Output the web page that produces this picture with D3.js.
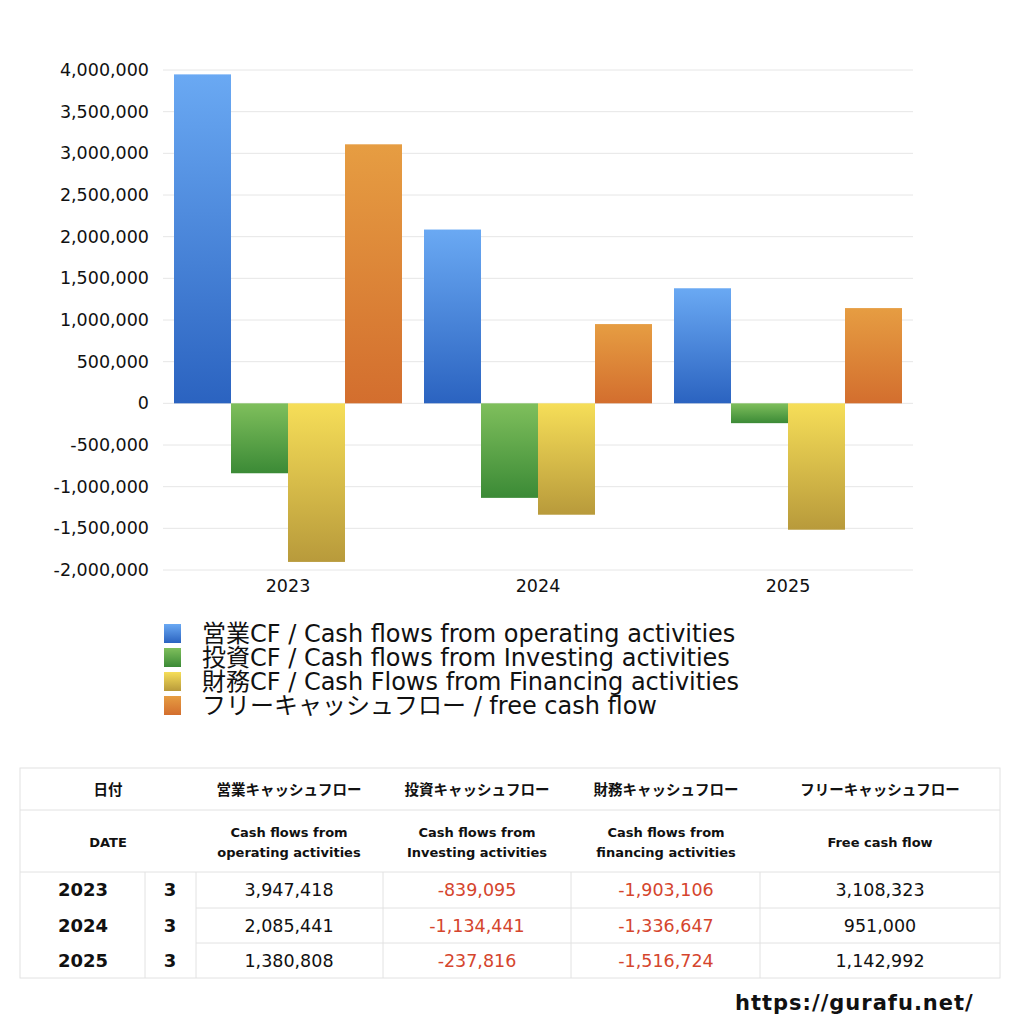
<!DOCTYPE html>
<html>
<head>
<meta charset="utf-8">
<script src="https://cdn.jsdelivr.net/npm/d3@7"></script>
<style>
  body { margin: 0; background: #fff; }
  svg text { font-family: "DejaVu Sans", "Noto Sans CJK JP", sans-serif; fill: #111; }
</style>
</head>
<body>
<div id="chart"></div>
<script>
// chart data
const years = ['2023', '2024', '2025'];
const months = [3, 3, 3];
const operating = [3947418, 2085441, 1380808];
const investing = [-839095, -1134441, -237816];
const financing = [-1903106, -1336647, -1516724];
const freeCF = [3108323, 951000, 1142992];

const seriesKeys = ['op', 'inv', 'fin', 'free'];
const legendLabels = [
    '営業CF / Cash flows from operating activities',
    '投資CF / Cash flows from Investing activities',
    '財務CF / Cash Flows from Financing activities',
    'フリーキャッシュフロー / free cash flow'
];
const headerJa = ['日付', '営業キャッシュフロー', '投資キャッシュフロー', '財務キャッシュフロー', 'フリーキャッシュフロー'];
const headerEn = [['DATE'], ['Cash flows from', 'operating activities'], ['Cash flows from', 'Investing activities'],
    ['Cash flows from', 'financing activities'], ['Free cash flow']];
const yTicks = [-2000000, -1500000, -1000000, -500000, 0, 500000, 1000000, 1500000, 2000000, 2500000, 3000000, 3500000, 4000000];

const gradients = {
    op: ['#6aa9f3', '#2b63c0'],
    inv: ['#7fbf5c', '#3b8a36'],
    fin: ['#f6de58', '#b89a3b'],
    free: ['#e69d42', '#d36e2e']
};

const values = {op: operating, inv: investing, fin: financing, free: freeCF};

const latinFont = '"DejaVu Sans", "Noto Sans CJK JP", sans-serif';
const jaFont = '"Noto Sans CJK JP", sans-serif';

// plain hyphen for negatives, like the original
const fmt = d3.formatLocale({decimal: '.', thousands: ',', grouping: [3], currency: ['', ''], minus: '-'}).format(',');

const svg = d3.select('#chart').append('svg')
    .attr('width', 1024)
    .attr('height', 1024);

const defs = svg.append('defs');
seriesKeys.forEach(k => {
    const g = defs.append('linearGradient')
        .attr('id', 'grad-' + k)
        .attr('x1', 0).attr('y1', 0).attr('x2', 0).attr('y2', 1);
    g.append('stop').attr('offset', '0%').attr('stop-color', gradients[k][0]);
    g.append('stop').attr('offset', '100%').attr('stop-color', gradients[k][1]);
});

const x0 = d3.scaleBand().domain(years).range([163, 913]).padding(0);
const x1 = d3.scaleBand().domain(seriesKeys).range([0, x0.bandwidth()]).paddingInner(0).paddingOuter(0.193);
const y = d3.scaleLinear().domain([-2000000, 4000000]).range([570, 70]);

// gridlines
svg.append('g')
    .selectAll('line')
    .data(yTicks)
    .enter()
    .append('line')
    .attr('x1', 163).attr('x2', 913)
    .attr('y1', d => y(d)).attr('y2', d => y(d))
    .attr('stroke', '#e6e6e6')
    .attr('stroke-width', 1);

// y axis labels
const yAxis = svg.append('g')
    .attr('transform', 'translate(149,0)')
    .call(d3.axisLeft(y).tickValues(yTicks).tickSize(0).tickPadding(0).tickFormat(fmt));
yAxis.select('.domain').remove();
yAxis.selectAll('text')
    .style('font-size', '17.5px')
    .style('font-family', latinFont)
    .attr('fill', '#222');

// x axis labels
const xAxis = svg.append('g')
    .attr('transform', 'translate(0,580)')
    .call(d3.axisBottom(x0).tickSize(0).tickPadding(0));
xAxis.select('.domain').remove();
xAxis.selectAll('text')
    .style('font-size', '17.5px')
    .style('font-family', latinFont)
    .attr('fill', '#222');

// bars
const groups = svg.append('g')
    .selectAll('g')
    .data(years)
    .enter()
    .append('g')
    .attr('transform', d => `translate(${x0(d)},0)`);

groups.selectAll('rect')
    .data((d, i) => seriesKeys.map(k => ({key: k, value: values[k][i]})))
    .enter()
    .append('rect')
    .attr('x', d => x1(d.key))
    .attr('width', x1.bandwidth())
    .attr('y', d => y(Math.max(0, d.value)))
    .attr('height', d => Math.abs(y(d.value) - y(0)))
    .attr('fill', d => `url(#grad-${d.key})`);

// legend
const legend = svg.append('g')
    .selectAll('g')
    .data(seriesKeys)
    .enter()
    .append('g')
    .attr('transform', (d, i) => `translate(164,${634 + i * 24})`);

legend.append('rect')
    .attr('x', 0).attr('y', -10)
    .attr('width', 17).attr('height', 19)
    .attr('fill', d => `url(#grad-${d})`);

const legendText = legend.append('text')
    .attr('x', 38)
    .attr('y', 2)
    .attr('dy', '0.35em');

// japanese part and latin part get their own fonts
legendText.each(function (d, i) {
    const m = legendLabels[i].match(/^([^\x00-\x7f]+)(.*)$/);
    const t = d3.select(this);
    t.append('tspan')
        .style('font-family', jaFont)
        .style('font-size', '24px')
        .text(m[1]);
    t.append('tspan')
        .style('font-family', latinFont)
        .style('font-size', '24px')
        .text(m[2]);
});

// table
const table = svg.append('g');
const lineColor = '#e2e2e2';
const colCenters = [108, 289, 477, 666, 880];
const rowY = [890, 926, 961];

table.append('rect')
    .attr('x', 20).attr('y', 768)
    .attr('width', 980).attr('height', 210)
    .attr('fill', 'none')
    .attr('stroke', lineColor);

[810, 872].forEach(v => {
    table.append('line')
        .attr('x1', 20).attr('x2', 1000)
        .attr('y1', v).attr('y2', v)
        .attr('stroke', lineColor);
});
[908, 943].forEach(v => {
    table.append('line')
        .attr('x1', 196).attr('x2', 1000)
        .attr('y1', v).attr('y2', v)
        .attr('stroke', lineColor);
});
[145, 196, 383, 571, 760].forEach(v => {
    table.append('line')
        .attr('x1', v).attr('x2', v)
        .attr('y1', 872).attr('y2', 978)
        .attr('stroke', lineColor);
});

table.selectAll('.hja')
    .data(headerJa)
    .enter()
    .append('text')
    .attr('class', 'hja')
    .attr('x', (d, i) => colCenters[i])
    .attr('y', 790)
    .attr('dy', '0.35em')
    .attr('text-anchor', 'middle')
    .style('font-family', jaFont)
    .style('font-size', '14.5px')
    .style('font-weight', 'bold')
    .text(d => d);

headerEn.forEach((lines, i) => {
    lines.forEach((t, j) => {
        table.append('text')
            .attr('x', colCenters[i])
            .attr('y', 842 + (j - (lines.length - 1) / 2) * 20)
            .attr('dy', '0.35em')
            .attr('text-anchor', 'middle')
            .style('font-size', '13px')
            .style('font-weight', 'bold')
            .text(t);
    });
});

years.forEach((yr, i) => {
    table.append('text')
        .attr('x', 58).attr('y', rowY[i]).attr('dy', '0.35em')
        .style('font-size', '18px').style('font-weight', 'bold')
        .text(yr);
    table.append('text')
        .attr('x', 170).attr('y', rowY[i]).attr('dy', '0.35em')
        .attr('text-anchor', 'middle')
        .style('font-size', '18px').style('font-weight', 'bold')
        .text(months[i]);
    seriesKeys.forEach((k, j) => {
        const v = values[k][i];
        table.append('text')
            .attr('x', colCenters[j + 1]).attr('y', rowY[i]).attr('dy', '0.35em')
            .attr('text-anchor', 'middle')
            .style('font-size', '17.5px')
            .style('fill', v < 0 ? '#d5452d' : '#111')
            .text(fmt(v));
    });
});

svg.append('text')
    .attr('x', 735).attr('y', 1003).attr('dy', '0.35em')
    .style('font-size', '21px')
    .style('font-weight', 'bold')
    .style('letter-spacing', '1px')
    .text('https://gurafu.net/');
</script>
</body>
</html>
